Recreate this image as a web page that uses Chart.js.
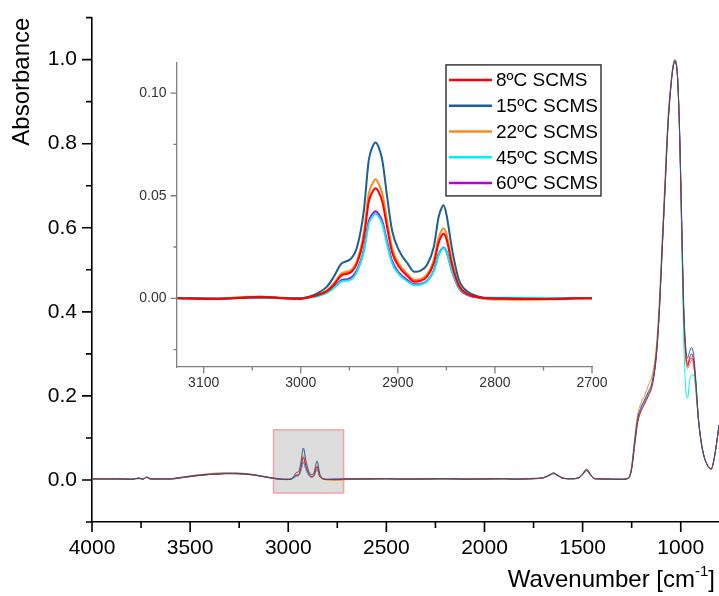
<!DOCTYPE html>
<html>
<head>
<meta charset="utf-8">
<script src="https://cdn.jsdelivr.net/npm/chart.js@4"></script>
<style>
  body { margin: 0; background: #fff; }
  #wrap { position: relative; width: 719px; height: 596px; }
  #main { position: absolute; left: 0; top: 0; }
  #inset { position: absolute; left: 110px; top: 50px; }
</style>
</head>
<body>
<div id="wrap">
  <canvas id="main" width="719" height="596"></canvas>
  <canvas id="inset" width="500" height="350"></canvas>
</div>
<script>
const seriesNames = ['8ºC SCMS', '15ºC SCMS', '22ºC SCMS', '45ºC SCMS', '60ºC SCMS'];
const seriesColors = ['#ff0000', '#1c5f94', '#ff8820', '#00f0f0', '#b700d6'];

// labelled ticks (minor ticks go half way between)
const mainXTicks = [4000, 3500, 3000, 2500, 2000, 1500, 1000];
const mainYTicks = [0.0, 0.2, 0.4, 0.6, 0.8, 1.0];
const insetXTicks = [3100, 3000, 2900, 2800, 2700];
const insetYTicks = [0.00, 0.05, 0.10];

// full spectrum, wavenumber in cm-1
const mainWn = [
  4000, 3950, 3900, 3850, 3800, 3760, 3740, 3722, 3700, 3660, 3620, 3595, 3550, 3500, 3450, 3400, 3350, 3320, 3280, 3230, 3180, 3130, 3080,
  3050, 3020, 3000, 2980, 2960, 2945, 2935, 2923, 2910, 2895, 2883, 2870, 2853, 2840, 2825, 2800,
  2750, 2700, 2600, 2500, 2400, 2300, 2200, 2100, 2000, 1900, 1850, 1800, 1750, 1700, 1670, 1648, 1625, 1600, 1560, 1520, 1500, 1480, 1460, 1440, 1400, 1350, 1300,
  1265, 1250, 1235, 1220, 1205, 1185, 1165, 1145, 1125, 1110, 1095, 1080, 1065, 1050, 1040, 1030, 1025, 1015, 1005, 995, 985, 975, 965, 955, 945, 935, 925, 910, 895, 880, 867, 855, 845, 832, 818, 805
];
const main8 = [
  0.002, 0.003, 0.002, 0.003, 0.001, 0.005, 0.002, 0.006, 0.003, 0.002, 0.003, 0.002, 0.005, 0.008, 0.011, 0.013, 0.014, 0.015, 0.015, 0.014, 0.012, 0.008, 0.004,
  0.002, 0.001, 0.001, 0.003, 0.011, 0.014, 0.0295, 0.0537, 0.032, 0.0145, 0.0081, 0.0105, 0.0316, 0.01, 0.003, 0.001,
  0.001, 0.002, 0.002, 0.003, 0.002, 0.002, 0.003, 0.002, 0.002, 0.003, 0.002, 0.002, 0.003, 0.005, 0.011, 0.015, 0.01, 0.004, 0.003, 0.005, 0.013, 0.023, 0.012, 0.003, 0.002, 0.002, 0.001,
  0.004, 0.025, 0.08, 0.135, 0.16, 0.18, 0.2, 0.225, 0.29, 0.39, 0.54, 0.69, 0.84, 0.935, 0.978, 0.995, 0.992, 0.945, 0.81, 0.6, 0.4, 0.305, 0.275, 0.29, 0.3, 0.285, 0.24, 0.145, 0.088, 0.054, 0.038, 0.029, 0.026, 0.045, 0.085, 0.13
];
const main15 = [
  0.003, 0.002, 0.003, 0.002, 0.002, 0.004, 0.002, 0.007, 0.002, 0.003, 0.002, 0.003, 0.006, 0.009, 0.012, 0.014, 0.015, 0.016, 0.016, 0.015, 0.013, 0.009, 0.005,
  0.003, 0.002, 0.002, 0.004, 0.017, 0.022, 0.043, 0.076, 0.046, 0.02, 0.013, 0.016, 0.045, 0.016, 0.004, 0.002,
  0.002, 0.003, 0.003, 0.003, 0.002, 0.003, 0.003, 0.002, 0.003, 0.003, 0.002, 0.003, 0.004, 0.006, 0.012, 0.017, 0.011, 0.005, 0.003, 0.006, 0.015, 0.026, 0.014, 0.004, 0.003, 0.002, 0.002,
  0.005, 0.03, 0.09, 0.145, 0.17, 0.19, 0.21, 0.235, 0.3, 0.4, 0.55, 0.7, 0.85, 0.94, 0.98, 0.998, 0.995, 0.95, 0.82, 0.62, 0.42, 0.32, 0.29, 0.305, 0.315, 0.3, 0.25, 0.15, 0.09, 0.055, 0.038, 0.029, 0.026, 0.045, 0.085, 0.13
];
const main22 = [
  0.003, 0.002, 0.002, 0.003, 0.002, 0.003, 0.003, 0.006, 0.002, 0.003, 0.002, 0.003, 0.006, 0.010, 0.013, 0.015, 0.017, 0.017, 0.017, 0.016, 0.013, 0.009, 0.005,
  0.003, 0.002, 0.002, 0.003, 0.012, 0.015, 0.032, 0.058, 0.035, 0.0158, 0.0089, 0.0115, 0.034, 0.011, 0.003, 0.0,
  -0.001, 0.001, 0.002, 0.002, 0.003, 0.002, 0.002, 0.003, 0.002, 0.002, 0.001, 0.002, 0.003, 0.005, 0.011, 0.016, 0.01, 0.004, 0.002, 0.005, 0.014, 0.024, 0.013, 0.003, 0.002, 0.001, 0.002,
  0.006, 0.035, 0.1, 0.155, 0.18, 0.2, 0.225, 0.25, 0.315, 0.42, 0.57, 0.72, 0.86, 0.945, 0.985, 1.0, 0.996, 0.95, 0.815, 0.61, 0.41, 0.295, 0.265, 0.275, 0.285, 0.275, 0.235, 0.145, 0.086, 0.053, 0.037, 0.028, 0.025, 0.044, 0.084, 0.128
];
const main45 = [
  0.002, 0.003, 0.002, 0.002, 0.003, 0.003, 0.001, 0.007, 0.003, 0.002, 0.003, 0.002, 0.005, 0.008, 0.011, 0.013, 0.014, 0.015, 0.015, 0.014, 0.012, 0.008, 0.004,
  0.002, 0.002, 0.001, 0.002, 0.0082, 0.0105, 0.0228, 0.0413, 0.024, 0.0105, 0.0064, 0.0082, 0.0245, 0.009, 0.003, 0.001,
  0.001, 0.002, 0.003, 0.002, 0.003, 0.003, 0.002, 0.002, 0.003, 0.002, 0.003, 0.002, 0.003, 0.005, 0.010, 0.015, 0.009, 0.004, 0.002, 0.005, 0.012, 0.021, 0.011, 0.003, 0.002, 0.002, 0.002,
  0.005, 0.028, 0.085, 0.14, 0.165, 0.185, 0.205, 0.23, 0.295, 0.395, 0.545, 0.695, 0.845, 0.94, 0.982, 1.0, 0.998, 0.955, 0.8, 0.57, 0.34, 0.22, 0.195, 0.235, 0.25, 0.25, 0.22, 0.14, 0.085, 0.053, 0.037, 0.029, 0.026, 0.045, 0.085, 0.13
];
const main60 = [
  0.003, 0.002, 0.003, 0.002, 0.002, 0.004, 0.002, 0.006, 0.002, 0.003, 0.002, 0.003, 0.005, 0.008, 0.011, 0.013, 0.014, 0.015, 0.015, 0.014, 0.012, 0.008, 0.004,
  0.002, 0.001, 0.001, 0.003, 0.0088, 0.011, 0.0238, 0.0424, 0.025, 0.011, 0.0068, 0.0085, 0.0248, 0.0095, 0.003, 0.001,
  0.002, 0.002, 0.002, 0.003, 0.002, 0.002, 0.003, 0.002, 0.002, 0.003, 0.002, 0.002, 0.003, 0.005, 0.011, 0.016, 0.01, 0.004, 0.003, 0.005, 0.013, 0.023, 0.012, 0.003, 0.002, 0.002, 0.002,
  0.005, 0.03, 0.088, 0.14, 0.165, 0.185, 0.205, 0.23, 0.295, 0.395, 0.545, 0.695, 0.845, 0.938, 0.98, 0.997, 0.994, 0.948, 0.81, 0.6, 0.4, 0.3, 0.27, 0.285, 0.29, 0.28, 0.235, 0.145, 0.087, 0.054, 0.038, 0.029, 0.026, 0.045, 0.085, 0.13
];

// C-H stretching region shown in the inset
const insetWn = [
  3127, 3110, 3090, 3070, 3055, 3040, 3020, 3000, 2990, 2983, 2973, 2966, 2958, 2949, 2942, 2935, 2930, 2926, 2923, 2920, 2916, 2911,
  2906, 2899, 2890, 2883, 2877, 2870, 2863, 2858, 2855, 2853, 2850, 2844, 2837, 2828, 2816, 2808, 2790, 2770, 2750, 2730, 2715, 2700
];
const inset8 = [
  0, -0.0002, -0.0003, 0, 0.0003, 0.0005, 0, -0.0003, 0.0007, 0.0015, 0.0035, 0.0065, 0.0112, 0.0125, 0.0172, 0.0295, 0.047, 0.052, 0.0537, 0.052, 0.047, 0.0345,
  0.0225, 0.0155, 0.0108, 0.0081, 0.0085, 0.0105, 0.017, 0.027, 0.0305, 0.0316, 0.029, 0.016, 0.006, 0.002, 0.0004, 0, -0.0002, -0.0003, -0.0003, -0.0002, 0, 0
];
const inset15 = [
  0, 0, -0.0003, 0, 0.0005, 0.0008, 0.0002, 0, 0.001, 0.0024, 0.0057, 0.0105, 0.017, 0.019, 0.025, 0.0429, 0.0672, 0.074, 0.076, 0.074, 0.0672, 0.0494,
  0.0332, 0.0235, 0.017, 0.0129, 0.0134, 0.0162, 0.025, 0.0396, 0.044, 0.0453, 0.041, 0.0235, 0.0089, 0.0032, 0.0008, 0, 0, -0.0002, -0.0004, -0.0003, 0, 0
];
const inset22 = [
  0.0002, 0, -0.0002, 0.0003, 0.0008, 0.0008, 0.0003, 0, 0.0007, 0.0017, 0.0039, 0.0072, 0.0122, 0.0135, 0.0185, 0.032, 0.051, 0.056, 0.058, 0.056, 0.051, 0.0375,
  0.0245, 0.0168, 0.0118, 0.0089, 0.0093, 0.0115, 0.0185, 0.0295, 0.033, 0.034, 0.0315, 0.0175, 0.0065, 0.0022, 0.0004, -0.0003, -0.0006, -0.0007, -0.0006, -0.0004, -0.0001, 0
];
const inset45 = [
  0, 0, -0.0001, 0, 0.0003, 0.0004, 0.0001, 0, 0.0004, 0.001, 0.0026, 0.005, 0.0082, 0.009, 0.013, 0.0228, 0.0362, 0.04, 0.0413, 0.04, 0.0362, 0.0262,
  0.0172, 0.0118, 0.0082, 0.0064, 0.0067, 0.0082, 0.0132, 0.021, 0.0237, 0.0245, 0.0228, 0.013, 0.005, 0.0018, 0.0006, 0.0004, 0.0003, 0.0002, 0.0001, 0, 0, 0
];
const inset60 = [
  0.0002, 0.0001, 0, 0.0001, 0.0003, 0.0003, 0.0001, 0, 0.0005, 0.0012, 0.003, 0.0055, 0.0088, 0.0098, 0.0138, 0.0238, 0.0375, 0.0412, 0.0424, 0.0412, 0.0375, 0.0275,
  0.0182, 0.0125, 0.0088, 0.0068, 0.007, 0.0085, 0.0135, 0.0215, 0.024, 0.0248, 0.023, 0.0128, 0.0048, 0.0016, 0.0003, 0, -0.0001, -0.0002, -0.0001, 0.0001, 0.0002, 0.0002
];

// zoomed window marked on the main plot (wavenumber, absorbance)
const zoomWn = [3075, 2718];
const zoomAbs = [-0.031, 0.119];

Chart.defaults.font.family = "'Liberation Sans', Arial, sans-serif";
Chart.defaults.color = '#000';

function pts(wn, vals) {
  return wn.map((w, i) => ({ x: w, y: vals[i] }));
}

// majors plus half-step minors inside the axis range
function majorMinor(major) {
  return function (scale) {
    const step = Math.abs(major[1] - major[0]);
    const vals = [];
    major.forEach(m => { vals.push(m - step / 2, m, m + step / 2); });
    const uniq = [...new Set(vals.map(v => Math.round(v * 1e6) / 1e6))]
      .filter(v => v >= scale.min - 1e-9 && v <= scale.max + 1e-9)
      .sort((a, b) => a - b);
    scale.ticks = uniq.map(v => ({ value: v }));
  };
}
function isMajor(major, v) {
  return major.some(m => Math.abs(m - v) < 1e-9);
}

// major / minor tick marks, outward. minor ones have empty labels
const tickMarks = {
  id: 'tickMarks',
  afterDraw(chart, args, opts) {
    const ctx = chart.ctx;
    const ca = chart.chartArea;
    const xs = chart.scales.x, ys = chart.scales.y;
    ctx.save();
    ctx.strokeStyle = opts.color;
    ctx.lineWidth = opts.width;
    ctx.beginPath();
    xs.ticks.forEach(t => {
      const px = xs.getPixelForValue(t.value);
      const len = t.label === '' ? opts.minor : opts.major;
      ctx.moveTo(px, ca.bottom);
      ctx.lineTo(px, ca.bottom + len);
    });
    ys.ticks.forEach(t => {
      const py = ys.getPixelForValue(t.value);
      const len = t.label === '' ? opts.minor : opts.major;
      ctx.moveTo(ca.left, py);
      ctx.lineTo(ca.left - len, py);
    });
    ctx.stroke();
    ctx.restore();
  }
};

const zoomBox = {
  id: 'zoomBox',
  beforeDatasetsDraw(chart) {
    const ctx = chart.ctx;
    const xs = chart.scales.x, ys = chart.scales.y;
    const x1 = xs.getPixelForValue(zoomWn[0]);
    const x2 = xs.getPixelForValue(zoomWn[1]);
    const y1 = ys.getPixelForValue(zoomAbs[1]);
    const y2 = ys.getPixelForValue(zoomAbs[0]);
    ctx.save();
    ctx.fillStyle = '#dddddd';
    ctx.fillRect(x1, y1, x2 - x1, y2 - y1);
    ctx.strokeStyle = '#f3a3a3';
    ctx.lineWidth = 1.5;
    ctx.strokeRect(x1, y1, x2 - x1, y2 - y1);
    ctx.restore();
  }
};

// x title with a real superscript
const xTitle = {
  id: 'xTitle',
  afterDraw(chart) {
    const ctx = chart.ctx;
    const ca = chart.chartArea;
    const big = "24px 'Liberation Sans', Arial, sans-serif";
    const small = "15px 'Liberation Sans', Arial, sans-serif";
    const y = chart.height - 16;
    ctx.save();
    ctx.fillStyle = '#000';
    ctx.textBaseline = 'middle';
    ctx.font = big;
    const w1 = ctx.measureText('Wavenumber [cm').width;
    const w3 = ctx.measureText(']').width;
    ctx.font = small;
    const w2 = ctx.measureText('-1').width;
    let x = ca.right - 4 - w1 - w2 - w3;
    ctx.font = big;
    ctx.fillText('Wavenumber [cm', x, y);
    x += w1;
    ctx.font = small;
    ctx.fillText('-1', x, y - 8);
    x += w2;
    ctx.font = big;
    ctx.fillText(']', x, y);
    ctx.restore();
  }
};

// boxed legend inside the inset
const boxLegend = {
  id: 'boxLegend',
  afterDraw(chart) {
    const ctx = chart.ctx;
    const ca = chart.chartArea;
    const left = ca.right - 146, top = ca.top + 2.5, w = 155, h = 131;
    ctx.save();
    ctx.fillStyle = '#fff';
    ctx.fillRect(left, top, w, h);
    ctx.strokeStyle = '#3a3a3a';
    ctx.lineWidth = 1.5;
    ctx.strokeRect(left, top, w, h);
    ctx.font = "19px 'Liberation Sans', Arial, sans-serif";
    ctx.textBaseline = 'middle';
    chart.data.datasets.forEach((ds, i) => {
      const yy = top + 15 + i * 25.8;
      ctx.strokeStyle = ds.borderColor;
      ctx.lineWidth = 2.5;
      ctx.beginPath();
      ctx.moveTo(left + 3, yy);
      ctx.lineTo(left + 46, yy);
      ctx.stroke();
      ctx.fillStyle = '#000';
      ctx.fillText(ds.label, left + 50, yy + 1);
    });
    ctx.restore();
  }
};

const mainSeries = [main8, main15, main22, main45, main60];
const mainOrder = [1, 0, 2, 3, 4];
new Chart(document.getElementById('main'), {
  type: 'line',
  data: {
    datasets: mainSeries.map((s, i) => ({
      label: seriesNames[i],
      data: pts(mainWn, s),
      borderColor: seriesColors[i],
      borderWidth: 1,
      pointRadius: 0,
      cubicInterpolationMode: 'monotone',
      order: mainOrder[i]
    }))
  },
  options: {
    responsive: false,
    animation: false,
    layout: { padding: { top: 16, right: 0, left: 0, bottom: 0 } },
    plugins: {
      legend: { display: false },
      tooltip: { enabled: false },
      tickMarks: { color: '#000', width: 1.6, major: 10, minor: 6 }
    },
    scales: {
      x: {
        type: 'linear',
        reverse: true,
        min: 805,
        max: 4000,
        grid: { display: false, drawTicks: true, tickLength: 10 },
        border: { color: '#000', width: 1.6 },
        afterBuildTicks: majorMinor(mainXTicks),
        ticks: {
          autoSkip: false,
          maxRotation: 0,
          padding: 4,
          font: { size: 21 },
          callback: v => isMajor(mainXTicks, v) ? String(v) : ''
        },
        afterFit: s => { s.height = 74; }
      },
      y: {
        min: -0.1,
        max: 1.1,
        grid: { display: false, drawTicks: true, tickLength: 10 },
        border: { color: '#000', width: 1.6 },
        afterBuildTicks: majorMinor(mainYTicks),
        ticks: {
          autoSkip: false,
          padding: 5,
          font: { size: 21 },
          callback: v => isMajor(mainYTicks, v) ? v.toFixed(1) : ''
        },
        title: {
          display: true,
          text: 'Absorbance',
          align: 'end',
          font: { size: 24 },
          padding: { top: 8, bottom: 0 }
        },
        afterFit: s => { s.width = 92; }
      }
    }
  },
  plugins: [zoomBox, tickMarks, xTitle]
});

const insetSeries = [inset8, inset15, inset22, inset45, inset60];
new Chart(document.getElementById('inset'), {
  type: 'line',
  data: {
    datasets: insetSeries.map((s, i) => ({
      label: seriesNames[i],
      data: pts(insetWn, s),
      borderColor: seriesColors[i],
      borderWidth: 2,
      pointRadius: 0,
      cubicInterpolationMode: 'monotone'
    }))
  },
  options: {
    responsive: false,
    animation: false,
    layout: { padding: { top: 12, right: 18, left: 0, bottom: 0 } },
    plugins: {
      legend: { display: false },
      tooltip: { enabled: false },
      tickMarks: { color: '#7f7f7f', width: 1.3, major: 6.5, minor: 3.5 }
    },
    scales: {
      x: {
        type: 'linear',
        reverse: true,
        min: 2700,
        max: 3127.5,
        grid: { display: false, drawTicks: true, tickLength: 6.5 },
        border: { color: '#808080', width: 1.3 },
        afterBuildTicks: majorMinor(insetXTicks),
        ticks: {
          autoSkip: false,
          maxRotation: 0,
          padding: 1,
          color: '#333',
          font: { size: 14 },
          callback: v => isMajor(insetXTicks, v) ? String(v) : ''
        },
        afterFit: s => { s.height = 33; }
      },
      y: {
        min: -0.0335,
        max: 0.115,
        grid: { display: false, drawTicks: true, tickLength: 6.5 },
        border: { color: '#808080', width: 1.3 },
        afterBuildTicks: majorMinor(insetYTicks),
        ticks: {
          autoSkip: false,
          padding: 4,
          color: '#333',
          font: { size: 14 },
          callback: v => isMajor(insetYTicks, v) ? v.toFixed(2) : ''
        },
        afterFit: s => { s.width = 67; }
      }
    }
  },
  plugins: [tickMarks, boxLegend]
});
</script>
</body>
</html>
